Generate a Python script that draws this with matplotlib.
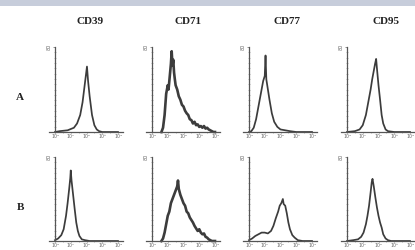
import matplotlib as mpl
mpl.use('Agg')
import matplotlib.pyplot as plt
from matplotlib.patches import Rectangle

# marker names and rows
markers = ['CD39', 'CD71', 'CD77', 'CD95']
rows = ['A', 'B']
decade_labels = ['10⁰', '10¹', '10²', '10³', '10⁴']
y_top_label = '80'

# histograms, x in log10 units of fluorescence, y as fraction of axis height
A_CD39_x = [0, 0.3, 0.8, 1.2, 1.4, 1.6, 1.75, 1.85, 1.95, 2.03, 2.1, 2.2, 2.35, 2.5, 2.65, 2.8, 3.0, 3.5, 4.0]
A_CD39_y = [0, 0.01, 0.02, 0.05, 0.1, 0.2, 0.35, 0.5, 0.65, 0.77, 0.6, 0.42, 0.2, 0.08, 0.03, 0.01, 0, 0, 0]

A_CD71_x = [0.6, 0.7, 0.8, 0.9, 1.0, 1.05, 1.1, 1.15, 1.2, 1.25, 1.3, 1.35, 1.4, 1.45, 1.5, 1.6, 1.7, 1.8,
            1.9, 2.0, 2.1, 2.2, 2.3, 2.4, 2.5, 2.6, 2.7, 2.8, 2.9, 3.0, 3.1, 3.2, 3.3, 3.4, 3.5, 3.6, 3.7,
            3.8, 3.9, 4.0]
A_CD71_y = [0, 0.05, 0.2, 0.45, 0.55, 0.5, 0.6, 0.7, 0.8, 0.95, 0.78, 0.85, 0.7, 0.62, 0.55, 0.5, 0.42, 0.38,
            0.32, 0.3, 0.25, 0.22, 0.2, 0.15, 0.14, 0.1, 0.12, 0.08, 0.09, 0.06, 0.07, 0.05, 0.07, 0.04, 0.05, 0.03, 0.02,
            0.01, 0, 0]

A_CD77_x = [0, 0.15, 0.3, 0.45, 0.6, 0.75, 0.9, 1.0, 1.05, 1.1, 1.2, 1.3, 1.45, 1.6, 1.8, 2.0, 2.3, 2.6, 3.0, 4.0]
A_CD77_y = [0, 0.01, 0.05, 0.15, 0.3, 0.45, 0.6, 0.66, 0.9, 0.62, 0.5, 0.38, 0.22, 0.12, 0.06, 0.03, 0.02, 0.01, 0, 0]

A_CD95_x = [0, 0.5, 0.8, 1.0, 1.2, 1.35, 1.5, 1.6, 1.7, 1.78, 1.85, 1.9, 2.0, 2.1, 2.2, 2.3, 2.45, 2.6, 3.0, 4.0]
A_CD95_y = [0, 0.01, 0.03, 0.08, 0.2, 0.35, 0.5, 0.62, 0.72, 0.8, 0.86, 0.75, 0.55, 0.38, 0.2, 0.1, 0.03, 0.01, 0, 0]

B_CD39_x = [0, 0.2, 0.4, 0.55, 0.7, 0.8, 0.9, 0.97, 1.0, 1.05, 1.15, 1.25, 1.35, 1.45, 1.55, 1.7, 1.9, 2.2, 3.0, 4.0]
B_CD39_y = [0.01, 0.03, 0.07, 0.14, 0.3, 0.45, 0.62, 0.75, 0.84, 0.72, 0.55, 0.38, 0.22, 0.12, 0.06, 0.02, 0.01, 0, 0, 0]

B_CD71_x = [0.6, 0.7, 0.8, 0.9, 1.0, 1.1, 1.2, 1.3, 1.4, 1.5, 1.6, 1.65, 1.7, 1.8, 1.9, 2.0, 2.1, 2.2, 2.3,
            2.4, 2.5, 2.6, 2.7, 2.8, 2.9, 3.0, 3.1, 3.2, 3.3, 3.4, 3.5, 3.6, 3.7, 3.8, 4.0]
B_CD71_y = [0, 0.03, 0.1, 0.2, 0.3, 0.35, 0.45, 0.5, 0.55, 0.6, 0.65, 0.72, 0.62, 0.55, 0.5, 0.45, 0.42, 0.35, 0.33,
            0.28, 0.25, 0.22, 0.18, 0.15, 0.12, 0.14, 0.1, 0.08, 0.09, 0.05, 0.04, 0.02, 0.01, 0, 0]

B_CD77_x = [0, 0.2, 0.4, 0.6, 0.8, 1.0, 1.2, 1.4, 1.55, 1.7, 1.85, 1.95, 2.05, 2.15, 2.2, 2.3, 2.4, 2.5, 2.6,
            2.75, 2.9, 3.1, 3.4, 4.0]
B_CD77_y = [0.01, 0.03, 0.06, 0.08, 0.1, 0.1, 0.09, 0.12, 0.18, 0.27, 0.35, 0.42, 0.45, 0.5, 0.44, 0.42, 0.33, 0.22, 0.14,
            0.07, 0.04, 0.01, 0, 0]

B_CD95_x = [0, 0.4, 0.7, 0.9, 1.05, 1.2, 1.3, 1.4, 1.5, 1.57, 1.62, 1.7, 1.8, 1.9, 2.0, 2.1, 2.2, 2.3, 2.45, 2.6, 2.8, 4.0]
B_CD95_y = [0, 0.01, 0.02, 0.05, 0.1, 0.2, 0.3, 0.42, 0.58, 0.7, 0.74, 0.65, 0.52, 0.4, 0.3, 0.22, 0.16, 0.08, 0.03, 0.01, 0, 0]

curves = {
    ('A', 'CD39'): (A_CD39_x, A_CD39_y), ('A', 'CD71'): (A_CD71_x, A_CD71_y),
    ('A', 'CD77'): (A_CD77_x, A_CD77_y), ('A', 'CD95'): (A_CD95_x, A_CD95_y),
    ('B', 'CD39'): (B_CD39_x, B_CD39_y), ('B', 'CD71'): (B_CD71_x, B_CD71_y),
    ('B', 'CD77'): (B_CD77_x, B_CD77_y), ('B', 'CD95'): (B_CD95_x, B_CD95_y),
}
noisy = {'CD71'}

W, H = 415, 250
fig = plt.figure(figsize=(W / 100, H / 100), dpi=100)
fig.patch.set_facecolor('white')

# band at the top of the scan
fig.patches.append(Rectangle((0, 1 - 6 / H), 1, 6 / H, transform=fig.transFigure,
                             facecolor='#C7CDDB', edgecolor='none'))

serif = ['Liberation Serif', 'DejaVu Serif']
col_axis_px = [55, 152, 249, 347]   # pixel x of the y-axis in each column
row_px = [(47, 132), (157, 241)]     # pixel top / bottom of each row
px_per_dec = 15.75
xmin, xmax = -0.4, 4.3
line_col = '#1a1a1a'

for r, row in enumerate(rows):
    top, bot = row_px[r]
    for c, m in enumerate(markers):
        left = col_axis_px[c] + xmin * px_per_dec
        width = (xmax - xmin) * px_per_dec
        ax = fig.add_axes([left / W, 1 - bot / H, width / W, (bot - top) / H])
        ax.patch.set_alpha(0)
        x, y = curves[(row, m)]
        lw = 1.9 if m in noisy else 1.25
        ax.plot(x, y, color=line_col, lw=lw, alpha=0.85, solid_joinstyle='round', clip_on=False)
        ax.set_xlim(xmin, xmax)
        ax.set_ylim(0, 1)
        for s in ['top', 'right']:
            ax.spines[s].set_visible(False)
        ax.spines['left'].set_position(('data', 0))
        ax.spines['left'].set_color('#555555')
        ax.spines['bottom'].set_color('#555555')
        ax.spines['left'].set_linewidth(0.9)
        ax.spines['bottom'].set_linewidth(0.9)
        ax.set_xticks(range(5))
        ax.set_xticklabels(decade_labels, fontsize=3.4, color='#666666', family='DejaVu Sans')
        ax.set_xticks([d + 0.5 for d in range(4)], minor=True)
        ax.set_yticks([0, 1])
        ax.set_yticklabels(['', y_top_label], fontsize=3.5, color='#666666', rotation=90, va='center')
        ax.set_yticks([i / 16 for i in range(1, 16)], minor=True)
        ax.tick_params(axis='x', which='major', length=1.0, width=0.5, pad=0.2, color='#666666')
        ax.tick_params(axis='x', which='minor', length=0.8, width=0.4, color='#888888')
        ax.tick_params(axis='y', which='major', length=1.8, width=0.5, pad=0.5, color='#666666')
        ax.tick_params(axis='y', which='minor', length=1.2, width=0.4, direction='inout', color='#888888')

# column titles and row letters
title_x = [90, 188, 287, 386]
for m, tx in zip(markers, title_x):
    fig.text(tx / W, 1 - 22 / H, m, ha='center', va='center', fontsize=8,
             fontweight='bold', family=serif, color='#222222')
for row, ry in zip(rows, [98, 207]):
    fig.text(20 / W, 1 - ry / H, row, ha='center', va='center', fontsize=8,
             fontweight='bold', family=serif, color='#222222')

plt.savefig('out.png', dpi=100, facecolor='white')
